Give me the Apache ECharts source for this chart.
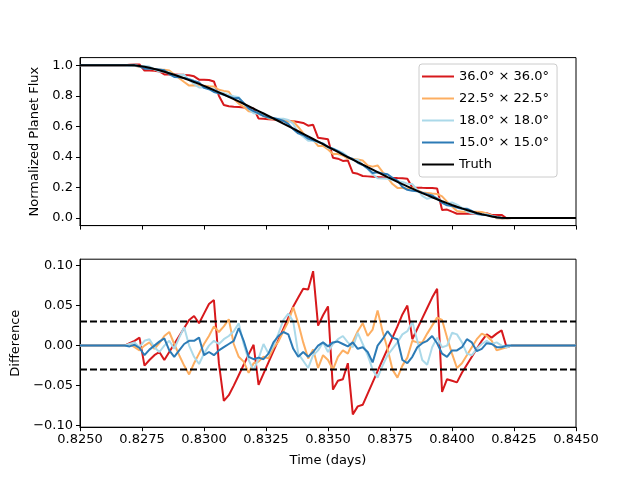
<!DOCTYPE html>
<html>
<head>
<meta charset="utf-8" />
<title></title>
<style>
  html, body { margin: 0; padding: 0; background: #fff; }
  #main { width: 640px; height: 480px; }
</style>
</head>
<body>
<div id="main"></div>
<script src="https://cdn.jsdelivr.net/npm/echarts@6/dist/echarts.min.js"></script>
<script type="text/javascript">
// sample times (days)
var times = [0.8250,
  0.8268, 0.8270, 0.8272, 0.8274, 0.8276, 0.8278, 0.8280, 0.8282, 0.8284, 0.8286,
  0.8288, 0.8290, 0.8292, 0.8294, 0.8296, 0.8298, 0.8300, 0.8302, 0.8304, 0.8306,
  0.8308, 0.8310, 0.8312, 0.8314, 0.8316, 0.8318, 0.8320, 0.8322, 0.8324, 0.8326,
  0.8328, 0.8330, 0.8332, 0.8334, 0.8336, 0.8338, 0.8340, 0.8342, 0.8344, 0.8346,
  0.8348, 0.8350, 0.8352, 0.8354, 0.8356, 0.8358, 0.8360, 0.8362, 0.8364, 0.8366,
  0.8368, 0.8370, 0.8372, 0.8374, 0.8376, 0.8378, 0.8380, 0.8382, 0.8384, 0.8386,
  0.8388, 0.8390, 0.8392, 0.8394, 0.8396, 0.8398, 0.8400, 0.8402, 0.8404, 0.8406,
  0.8408, 0.8410, 0.8412, 0.8414, 0.8416, 0.8418, 0.8420, 0.8422, 0.8424,
  0.8450];

// true planet flux
var truth = [1.0,
  1.0, 1.0, 0.9991, 0.9952, 0.9898, 0.9831, 0.9754, 0.9670, 0.9578, 0.9480,
  0.9375, 0.9265, 0.9149, 0.9029, 0.8905, 0.8776, 0.8644, 0.8508, 0.8369, 0.8227,
  0.8082, 0.7934, 0.7784, 0.7631, 0.7477, 0.7320, 0.7162, 0.7002, 0.6840, 0.6677,
  0.6513, 0.6348, 0.6181, 0.6014, 0.5846, 0.5678, 0.5509, 0.5339, 0.5170, 0.5000,
  0.4830, 0.4661, 0.4491, 0.4322, 0.4154, 0.3986, 0.3819, 0.3652, 0.3487, 0.3323,
  0.3160, 0.2998, 0.2838, 0.2680, 0.2523, 0.2369, 0.2216, 0.2066, 0.1918, 0.1773,
  0.1631, 0.1492, 0.1356, 0.1224, 0.1096, 0.0971, 0.0851, 0.0736, 0.0625, 0.0521,
  0.0422, 0.0330, 0.0246, 0.0169, 0.0102, 0.0048, 0.0009, 0.0, 0.0,
  0.0];

// model minus truth, per map resolution
var diff36 = [0,
  0.000, 0.003, 0.006, 0.010, -0.025, -0.018, -0.012, -0.008, -0.018, -0.008,
  0.002, 0.012, 0.022, 0.032, 0.037, 0.028, 0.040, 0.052, 0.057, -0.022,
  -0.069, -0.062, -0.050, -0.037, -0.024, -0.011, 0.001, -0.049, -0.035, -0.021,
  -0.007, 0.007, 0.021, 0.035, 0.049, 0.060, 0.071, 0.070, 0.093, 0.025,
  0.038, 0.049, -0.055, -0.044, -0.042, -0.022, -0.086, -0.076, -0.074, -0.060,
  -0.046, -0.032, -0.018, -0.004, 0.010, 0.024, 0.039, 0.050, 0.008, 0.021,
  0.034, 0.047, 0.060, 0.071, -0.058, -0.042, -0.044, -0.046, -0.034, -0.024,
  -0.014, -0.004, 0.006, 0.014, 0.010, 0.015, 0.019, -0.002, 0.000,
  0];

var diff22 = [0,
  0.000, 0.002, -0.002, -0.006, 0.000, 0.004, -0.004, 0.003, 0.012, 0.017,
  0.002, -0.012, -0.025, -0.036, -0.022, -0.010, 0.002, 0.012, 0.024, 0.017,
  0.024, 0.033, 0.002, -0.014, -0.020, -0.034, -0.022, -0.020, -0.014, -0.016,
  -0.003, 0.005, 0.018, 0.030, 0.048, 0.028, 0.004, -0.016, -0.005, -0.028,
  -0.012, -0.018, -0.030, -0.014, -0.006, -0.010, 0.005, 0.018, 0.028, 0.012,
  0.020, 0.044, 0.018, -0.004, -0.030, -0.040, -0.025, -0.015, 0.006, 0.004,
  0.004, 0.015, 0.025, 0.035, 0.032, 0.010, -0.010, -0.028, -0.022, -0.012,
  -0.002, 0.008, 0.015, 0.012, 0.006, -0.006, -0.004, -0.002, 0.000,
  0];

var diff18 = [0,
  0.000, 0.002, 0.004, -0.002, 0.006, 0.008, -0.002, -0.008, 0.000, 0.006,
  -0.004, 0.010, 0.023, 0.000, -0.014, -0.023, -0.010, 0.000, 0.006, 0.002,
  0.008, 0.012, 0.018, 0.028, 0.002, -0.018, -0.031, -0.016, 0.002, -0.010,
  0.000, 0.015, 0.032, 0.040, 0.030, -0.010, -0.019, -0.028, -0.012, -0.006,
  0.004, -0.008, 0.002, 0.008, 0.012, 0.004, -0.002, 0.016, 0.002, -0.012,
  -0.030, -0.040, -0.025, -0.012, -0.004, 0.004, 0.014, 0.018, 0.030, 0.006,
  -0.018, -0.024, -0.002, 0.010, -0.002, 0.000, 0.016, 0.014, 0.004, -0.010,
  -0.012, -0.004, 0.002, 0.006, 0.002, 0.004, 0.000, -0.002, 0.000,
  0];

var diff15 = [0,
  0.000, -0.001, 0.001, -0.003, -0.012, -0.005, 0.000, 0.005, 0.009, -0.006,
  -0.014, -0.006, 0.002, 0.006, 0.006, 0.010, -0.012, -0.008, -0.012, -0.006,
  -0.002, 0.002, 0.006, 0.022, 0.006, -0.014, -0.017, -0.015, -0.017, -0.010,
  0.004, 0.012, 0.017, 0.014, -0.004, -0.014, -0.008, -0.014, -0.008, 0.000,
  0.004, -0.001, 0.004, 0.005, 0.002, -0.001, 0.004, -0.004, -0.002, -0.008,
  -0.021, 0.000, 0.008, 0.018, 0.010, 0.008, -0.018, -0.022, -0.014, -0.002,
  0.003, 0.006, 0.012, 0.003, -0.010, -0.014, -0.006, -0.006, -0.002, 0.008,
  0.004, -0.007, -0.004, 0.003, 0.002, -0.002, -0.002, 0.000, 0.000,
  0];

var names = ['36.0° × 36.0°', '22.5° × 22.5°', '18.0° × 18.0°', '15.0° × 15.0°'];
var diffs = [diff36, diff22, diff18, diff15];
var colors = ['#d7191c', '#fdae61', '#abd9e9', '#2c7bb6'];
var threshold = 0.03;
var fluxTicks = [0.0, 0.2, 0.4, 0.6, 0.8, 1.0];
var diffTicks = [-0.10, -0.05, 0.00, 0.05, 0.10];
</script>
<script type="text/javascript">
    var FONT = 'DejaVu Sans';
    var myChart = echarts.init(document.getElementById('main'));

    function pairs(vals) {
        return times.map(function (t, i) { return [t, vals[i]]; });
    }

    var series = [];
    diffs.forEach(function (d, j) {
        series.push({
            name: names[j], type: 'line', xAxisIndex: 0, yAxisIndex: 0,
            data: pairs(truth.map(function (v, i) { return v + d[i]; })),
            symbol: 'none', lineStyle: { width: 2, color: colors[j] }, itemStyle: { color: colors[j] }
        });
    });
    series.push({
        name: 'Truth', type: 'line', xAxisIndex: 0, yAxisIndex: 0,
        data: pairs(truth), symbol: 'none',
        lineStyle: { width: 2, color: '#000' }, itemStyle: { color: '#000' }
    });
    diffs.forEach(function (d, j) {
        series.push({
            name: names[j], type: 'line', xAxisIndex: 1, yAxisIndex: 1,
            data: pairs(d), symbol: 'none',
            lineStyle: { width: 2, color: colors[j] }, itemStyle: { color: colors[j] }
        });
    });
    [threshold, -threshold].forEach(function (h) {
        series.push({
            name: 'limit', type: 'line', xAxisIndex: 1, yAxisIndex: 1,
            data: [[times[0], h], [times[times.length - 1], h]], symbol: 'none',
            lineStyle: { width: 2, color: '#000', type: [7, 3] }
        });
    });

    var tick = { show: true, length: 4, lineStyle: { color: '#000', width: 1 } };
    var axLine = { show: true, onZero: false, lineStyle: { color: '#000', width: 1 } };

    function xAx(idx, labels) {
        return {
            type: 'value', gridIndex: idx, min: 0.825, max: 0.845, interval: 0.0025,
            axisLine: axLine, axisTick: tick, splitLine: { show: false },
            axisLabel: {
                show: labels, color: '#000', fontSize: 13, fontFamily: FONT, margin: 6,
                formatter: function (v) { return v.toFixed(4); }
            },
            name: labels ? 'Time (days)' : '', nameLocation: 'middle', nameGap: 27,
            nameTextStyle: { color: '#000', fontSize: 13, fontFamily: FONT }
        };
    }

    var option = {
        animation: false,
        backgroundColor: '#fff',
        textStyle: { fontFamily: FONT },
        grid: [
            { left: 80, top: 57.6, width: 496, height: 168, show: true, borderColor: '#000', borderWidth: 1 },
            { left: 80, top: 259.2, width: 496, height: 168, show: true, borderColor: '#000', borderWidth: 1 }
        ],
        legend: {
            data: names.concat(['Truth']),
            orient: 'vertical', left: 419, top: 64,
            icon: 'path://M0,0 L32,0 L32,2 L0,2 Z',
            itemWidth: 32, itemHeight: 2, itemGap: 7,
            padding: [5, 8, 5, 3],
            borderColor: '#cccccc', borderWidth: 1, borderRadius: 3, backgroundColor: '#fff',
            textStyle: { color: '#000', fontSize: 13, fontFamily: FONT, lineHeight: 15 }
        },
        xAxis: [xAx(0, false), xAx(1, true)],
        yAxis: [
            {
                type: 'value', gridIndex: 0, min: -0.05, max: 1.05,
                axisLine: axLine, splitLine: { show: false },
                axisTick: { show: true, length: 4, lineStyle: { color: '#000' }, customValues: fluxTicks },
                axisLabel: {
                    color: '#000', fontSize: 13, fontFamily: FONT, margin: 7, customValues: fluxTicks,
                    formatter: function (v) { return v.toFixed(1); }
                },
                name: 'Normalized Planet Flux', nameLocation: 'middle', nameGap: 38,
                nameTextStyle: { color: '#000', fontSize: 13, fontFamily: FONT }
            },
            {
                type: 'value', gridIndex: 1, min: -0.102, max: 0.108,
                axisLine: axLine, splitLine: { show: false },
                axisTick: { show: true, length: 4, lineStyle: { color: '#000' }, customValues: diffTicks },
                axisLabel: {
                    color: '#000', fontSize: 13, fontFamily: FONT, margin: 7, customValues: diffTicks,
                    formatter: function (v) { return (v < -1e-9 ? '\u2212' : '') + Math.abs(v).toFixed(2); }
                },
                name: 'Difference', nameLocation: 'middle', nameGap: 58,
                nameTextStyle: { color: '#000', fontSize: 13, fontFamily: FONT }
            }
        ],
        series: series
    };
    myChart.setOption(option);
</script>
</body>
</html>
